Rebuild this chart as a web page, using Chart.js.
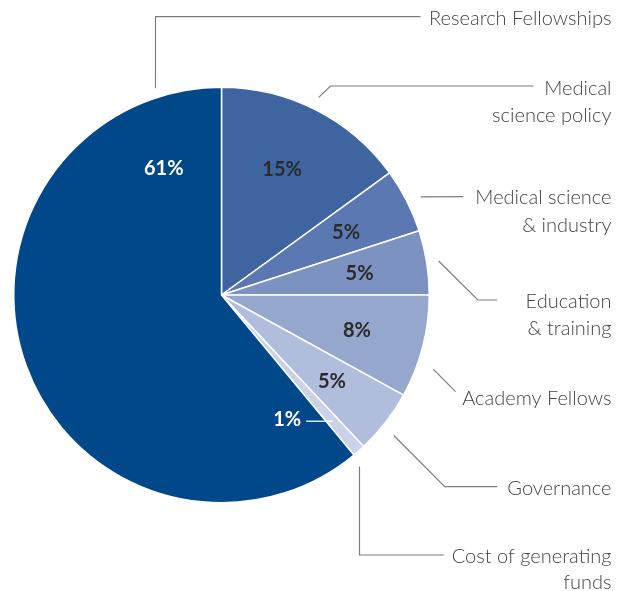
<!DOCTYPE html>
<html>
<head>
<meta charset="utf-8">
<script src="https://cdn.jsdelivr.net/npm/chart.js@4/dist/chart.umd.min.js"></script>
<style>
  html, body { margin: 0; padding: 0; background: #fff; }
  #wrap { width: 626px; height: 591px; }
</style>
</head>
<body>
<div id="wrap"><canvas id="c" width="626" height="591"></canvas></div>
<script>
// ---- data ----
const categories = [
  'Medical science policy',
  'Medical science & industry',
  'Education & training',
  'Academy Fellows',
  'Governance',
  'Cost of generating funds',
  'Research Fellowships'
];
const shares = [15, 5, 5, 8, 5, 1, 61];
const percentLabels = ['15%', '5%', '5%', '8%', '5%', '1%', '61%'];
const calloutText = [
  ['Medical', 'science policy'],
  ['Medical science', '& industry'],
  ['Education', '& training'],
  ['Academy Fellows'],
  ['Governance'],
  ['Cost of generating', 'funds'],
  ['Research Fellowships']
];

// ---- styles / layout ----
const sliceColors = ['#3e65a0', '#5b78b2', '#7c92c0', '#96a7cd', '#b0bddc', '#c9d2e8', '#00488a'];
const pctColors = ['#2a2a2a', '#2a2a2a', '#2a2a2a', '#2a2a2a', '#2a2a2a', '#ffffff', '#ffffff'];
// label angle overrides (deg clockwise from top), null = slice middle
const pctAngle = [25.7, null, null, null, null, 152, 335.6];
const pctRadius = 0.673;
// callout leader geometry: start on the ring (angle deg, radius factor) then offsets from centre
const callouts = [
  { a: 26.2, rf: 1.06, pts: [[109, -209], [312, -209]], base: [-200, -173.3] },
  { a: 63.8, rf: 1.07, pts: [[241.7, -98.3]], base: [-91, -63.3] },
  { a: 81.1, rf: 1.058, pts: [[256.3, 5], [275.7, 5]], base: [12.7, 40] },
  { a: 109.3, rf: 1.08, pts: [[234, 96.7]], base: [110] },
  { a: 129.2, rf: 1.07, pts: [[223.3, 191.7], [275.7, 191.7]], base: [200] },
  { a: 141.2, rf: 1.06, pts: [[138, 260], [222.3, 260]], base: [267.7, 294] },
  { a: 342.3, rf: 1.045, pts: [[-66, -278.3], [199, -278.3]], base: [-270] }
];
const textRightDx = 390;
const labelFont = '300 20px Lato';
const pctFont = 'bold 20px Lato';

function polar(cx, cy, r, deg) {
  const t = deg * Math.PI / 180;
  return [cx + r * Math.sin(t), cy - r * Math.cos(t)];
}

const annotate = {
  id: 'annotate',
  afterDatasetsDraw(chart) {
    const ctx = chart.ctx;
    const meta = chart.getDatasetMeta(0);
    const arcs = meta.data;
    const total = shares.reduce((s, v) => s + v, 0);
    const cx = arcs[0].x, cy = arcs[0].y, R = arcs[0].outerRadius;
    let cum = 0;
    const mids = shares.map(v => { const m = (cum + v / 2) / total * 360; cum += v; return m; });

    // percentage labels
    ctx.save();
    ctx.font = pctFont;
    ctx.textAlign = 'center';
    ctx.textBaseline = 'alphabetic';
    arcs.forEach((arc, i) => {
      const ang = pctAngle[i] == null ? mids[i] : pctAngle[i];
      const [x, y] = polar(cx, cy, R * pctRadius, ang);
      ctx.fillStyle = pctColors[i];
      ctx.fillText(percentLabels[i], x, y + 7.3);
      if (shares[i] === 1) {
        const w = ctx.measureText(percentLabels[i]).width;
        const [ex, ey] = polar(cx, cy, R * 0.81, mids[i]);
        ctx.strokeStyle = '#ffffff';
        ctx.lineWidth = 1.3;
        ctx.beginPath();
        ctx.moveTo(x + w / 2 + 5, ey);
        ctx.lineTo(ex, ey);
        ctx.stroke();
      }
    });
    ctx.restore();

    // callouts
    ctx.save();
    ctx.strokeStyle = '#7d7d7d';
    ctx.lineWidth = 1.2;
    ctx.fillStyle = '#444444';
    ctx.font = labelFont;
    ctx.textAlign = 'right';
    ctx.textBaseline = 'alphabetic';
    callouts.forEach((c, i) => {
      const [sx, sy] = polar(cx, cy, R * c.rf, c.a);
      ctx.beginPath();
      ctx.moveTo(sx, sy);
      c.pts.forEach(p => ctx.lineTo(cx + p[0], cy + p[1]));
      ctx.stroke();
      calloutText[i].forEach((line, k) => {
        ctx.fillText(line, cx + textRightDx, cy + c.base[k]);
      });
    });
    ctx.restore();
  }
};

new Chart(document.getElementById('c'), {
  type: 'pie',
  data: {
    labels: categories,
    datasets: [{
      data: shares,
      backgroundColor: sliceColors,
      borderColor: '#ffffff',
      borderWidth: 1.5
    }]
  },
  options: {
    responsive: false,
    animation: false,
    layout: { padding: { left: 13, right: 196, top: 86, bottom: 87 } },
    plugins: { legend: { display: false }, tooltip: { enabled: false } }
  },
  plugins: [annotate]
});
</script>
</body>
</html>
